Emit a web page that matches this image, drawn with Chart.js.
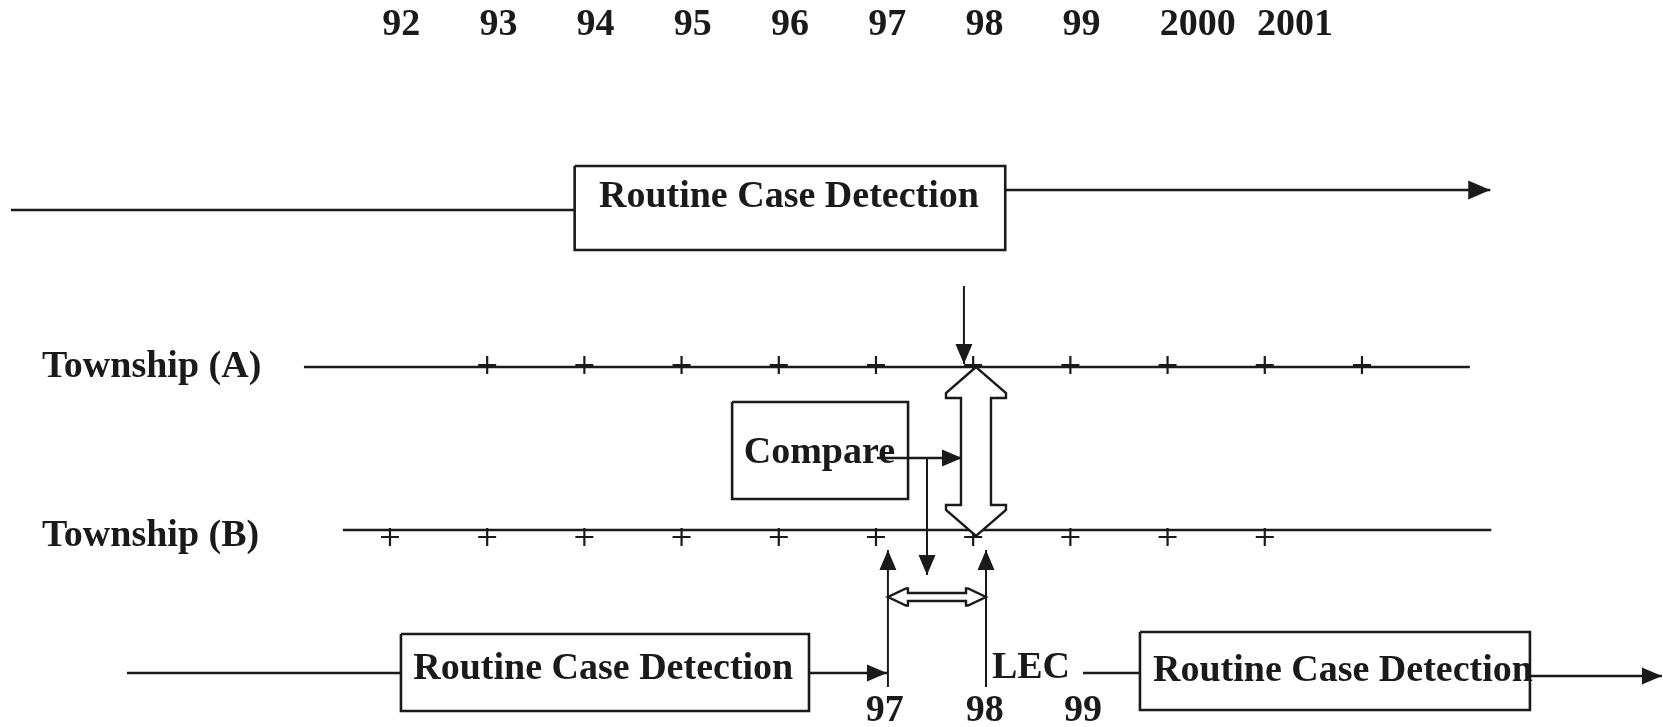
<!DOCTYPE html>
<html>
<head>
<meta charset="utf-8">
<script src="https://cdn.jsdelivr.net/npm/chart.js@4/dist/chart.umd.min.js"></script>
<style>
  html, body { margin: 0; padding: 0; background: #ffffff; }
  #wrap { width: 1663px; height: 727px; }
</style>
</head>
<body>
<div id="wrap"><canvas id="c" width="1663" height="727"></canvas></div>
<script>
// ---------- timeline values (x = year, 100 = 2000) ----------
const YEAR_LABELS = ['92', '93', '94', '95', '96', '97', '98', '99', '2000', '2001'];
const YEAR_VALUES = [92, 93, 94, 95, 96, 97, 98, 99, 100, 101];
const TOWNSHIP_A_MARKS = [93, 94, 95, 96, 97, 98, 99, 100, 101, 102];
const TOWNSHIP_B_MARKS = [92, 93, 94, 95, 96, 97, 98, 99, 100, 101];
const ROW_LABELS = ['Township (A)', 'Township (B)'];
const BOX_LABELS = ['Routine Case Detection', 'Compare', 'Routine Case Detection', 'Routine Case Detection'];
const EVENT_LABELS = ['97', '98', '99'];
const EVENT_VALUES = [97.09, 98.12, 99.13];
const LEC_LABEL = 'LEC';

// ---------- row levels (diagram units from the top) ----------
const ROW_YEARS = 3.5;
const ROW_TOP_IN = 21.0;
const ROW_TOP_OUT = 19.0;
const ROW_A = 36.7;
const ROW_A_MARKS = 36.5;
const ROW_B = 53.0;
const ROW_B_MARKS = 53.7;
const ROW_COMPARE = 45.8;
const ROW_BOTTOM = 67.3;
const ROW_BOTTOM_OUT = 67.6;
const ROW_EVENTS = 72.1;

// ---------- spans on the time axis ----------
const TOP_IN_SPAN = [88.10, 93.90];
const TOP_BOX_X = [93.90, 98.33];
const TOP_BOX_Y = [16.6, 25.0];
const TOP_OUT_SPAN = [98.33, 103.32];
const A_SPAN = [91.115, 103.11];
const B_SPAN = [91.516, 103.33];
const SIGNAL_X = 97.905;
const SIGNAL_SPAN = [28.6, 36.4];
const COMPARE_BOX_X = [95.52, 97.33];
const COMPARE_BOX_Y = [40.2, 49.9];
const COMPARE_OUT_SPAN = [97.01, 97.885];
const COMPARE_DROP_X = 97.525;
const COMPARE_DROP_SPAN = [45.8, 57.5];
const WINDOW_START = 97.123;
const WINDOW_END = 98.132;
const WINDOW_RISE = [68.7, 55.0];
const WINDOW_ROW = 59.7;
const LINK_X = 98.029;
const LINK_SPAN = [36.7, 53.6];
const BOTTOM_IN_SPAN = [89.294, 92.113];
const BOTTOM_BOX1_X = [92.113, 96.311];
const BOTTOM_BOX1_Y = [63.4, 71.1];
const BOTTOM_MID_SPAN = [96.311, 97.113];
const LEC_LINE_SPAN = [99.13, 99.716];
const BOTTOM_BOX2_X = [99.716, 103.728];
const BOTTOM_BOX2_Y = [63.2, 71.0];
const BOTTOM_OUT_SPAN = [103.728, 105.086];

const INK = '#1a1a1a';
const FONT = 'bold 38px "Liberation Serif", "Times New Roman", serif';

function seg(x0, y0, x1, y1, extra) {
  return Object.assign({
    type: 'line',
    data: [{ x: x0, y: y0 }, { x: x1, y: y1 }],
    borderColor: INK, borderWidth: 2.5, pointRadius: 0, fill: false, tension: 0, showLine: true
  }, extra || {});
}
function box(xs, ys) {
  return {
    type: 'line',
    data: [{ x: xs[0], y: ys[0] }, { x: xs[1], y: ys[0] }, { x: xs[1], y: ys[1] }, { x: xs[0], y: ys[1] }, { x: xs[0], y: ys[0] }],
    borderColor: INK, borderWidth: 2.6, pointRadius: 0, fill: false, tension: 0, showLine: true,
    borderJoinStyle: 'miter'
  };
}
function marks(values, row) {
  return {
    type: 'scatter',
    data: values.map(v => ({ x: v, y: row })),
    pointStyle: 'cross', pointRadius: 9, borderColor: INK, borderWidth: 2.2, showLine: false
  };
}

const datasets = [
  seg(TOP_IN_SPAN[0], ROW_TOP_IN, TOP_IN_SPAN[1], ROW_TOP_IN),
  box(TOP_BOX_X, TOP_BOX_Y),
  seg(TOP_OUT_SPAN[0], ROW_TOP_OUT, TOP_OUT_SPAN[1], ROW_TOP_OUT, { arrowEnd: true, headLen: 22, headHalf: 9.5 }),
  seg(A_SPAN[0], ROW_A, A_SPAN[1], ROW_A),
  marks(TOWNSHIP_A_MARKS, ROW_A_MARKS),
  seg(B_SPAN[0], ROW_B, B_SPAN[1], ROW_B),
  marks(TOWNSHIP_B_MARKS, ROW_B_MARKS),
  seg(SIGNAL_X, SIGNAL_SPAN[0], SIGNAL_X, SIGNAL_SPAN[1], { arrowEnd: true, borderWidth: 2 }),
  box(COMPARE_BOX_X, COMPARE_BOX_Y),
  seg(COMPARE_OUT_SPAN[0], ROW_COMPARE, COMPARE_OUT_SPAN[1], ROW_COMPARE, { arrowEnd: true }),
  seg(COMPARE_DROP_X, COMPARE_DROP_SPAN[0], COMPARE_DROP_X, COMPARE_DROP_SPAN[1], { arrowEnd: true, borderWidth: 2 }),
  seg(WINDOW_START, WINDOW_RISE[0], WINDOW_START, WINDOW_RISE[1], { arrowEnd: true, borderWidth: 2 }),
  seg(WINDOW_END, WINDOW_RISE[0], WINDOW_END, WINDOW_RISE[1], { arrowEnd: true, borderWidth: 2 }),
  seg(BOTTOM_IN_SPAN[0], ROW_BOTTOM, BOTTOM_IN_SPAN[1], ROW_BOTTOM),
  box(BOTTOM_BOX1_X, BOTTOM_BOX1_Y),
  seg(BOTTOM_MID_SPAN[0], ROW_BOTTOM, BOTTOM_MID_SPAN[1], ROW_BOTTOM, { arrowEnd: true }),
  seg(LEC_LINE_SPAN[0], ROW_BOTTOM, LEC_LINE_SPAN[1], ROW_BOTTOM),
  box(BOTTOM_BOX2_X, BOTTOM_BOX2_Y),
  seg(BOTTOM_OUT_SPAN[0], ROW_BOTTOM_OUT, BOTTOM_OUT_SPAN[1], ROW_BOTTOM_OUT, { arrowEnd: true })
];

function drawHead(ctx, ax, ay, bx, by, len, half) {
  const dx = bx - ax, dy = by - ay, L = Math.hypot(dx, dy) || 1;
  const ux = dx / L, uy = dy / L, nx = -uy, ny = ux;
  ctx.beginPath();
  ctx.moveTo(bx, by);
  ctx.lineTo(bx - ux * len + nx * half, by - uy * len + ny * half);
  ctx.lineTo(bx - ux * len - nx * half, by - uy * len - ny * half);
  ctx.closePath();
  ctx.fill();
}

function drawHollow(ctx, p0, p1, hl, hw, sw, sh) {
  const dx = p1.x - p0.x, dy = p1.y - p0.y, L = Math.hypot(dx, dy) || 1;
  const ux = dx / L, uy = dy / L, nx = -uy, ny = ux;
  const loc = [[0, 0], [hl - sh, hw], [hl, hw], [hl, sw], [L - hl, sw], [L - hl, hw], [L - hl + sh, hw], [L, 0],
    [L - hl + sh, -hw], [L - hl, -hw], [L - hl, -sw], [hl, -sw], [hl, -hw], [hl - sh, -hw]];
  ctx.beginPath();
  loc.forEach(([t, s], i) => {
    const px = p0.x + ux * t + nx * s, py = p0.y + uy * t + ny * s;
    if (i === 0) ctx.moveTo(px, py); else ctx.lineTo(px, py);
  });
  ctx.closePath();
  ctx.fillStyle = '#ffffff';
  ctx.fill();
  ctx.stroke();
}

const diagram = {
  id: 'diagram',
  afterDatasetsDraw(chart) {
    const { ctx } = chart;
    const xs = chart.scales.x, ys = chart.scales.y;
    const P = (vx, vy) => ({ x: xs.getPixelForValue(vx), y: ys.getPixelForValue(vy) });
    ctx.save();
    ctx.fillStyle = INK;
    ctx.strokeStyle = INK;
    chart.data.datasets.forEach((ds, i) => {
      if (!ds.arrowEnd) return;
      const pts = chart.getDatasetMeta(i).data;
      const a = pts[pts.length - 2], b = pts[pts.length - 1];
      ctx.fillStyle = INK;
      drawHead(ctx, a.x, a.y, b.x, b.y, ds.headLen || 20, ds.headHalf || 8.5);
    });
    ctx.lineWidth = 2.4;
    ctx.lineJoin = 'miter';
    drawHollow(ctx, P(LINK_X, LINK_SPAN[0]), P(LINK_X, LINK_SPAN[1]), 31, 30, 15, 5);
    drawHollow(ctx, P(WINDOW_START, WINDOW_ROW), P(WINDOW_END, WINDOW_ROW), 20, 8.5, 4, 2);

    ctx.fillStyle = INK;
    ctx.font = FONT;
    ctx.textBaseline = 'alphabetic';
    // year ticks along the top
    ctx.textAlign = 'left';
    YEAR_LABELS.forEach((t, i) => {
      const p = P(YEAR_VALUES[i] - 0.08, ROW_YEARS);
      ctx.fillText(t, p.x, p.y);
    });
    // row labels
    [[ROW_LABELS[0], 37.7], [ROW_LABELS[1], 54.6]].forEach(([t, yy]) => {
      const p = P(88.42, yy);
      ctx.fillText(t, p.x, p.y);
    });
    // box labels
    [[BOX_LABELS[0], 94.15, 20.7], [BOX_LABELS[1], 95.64, 46.3], [BOX_LABELS[2], 92.24, 67.9], [BOX_LABELS[3], 99.85, 68.1]]
      .forEach(([t, vx, vy]) => {
        const p = P(vx, vy);
        ctx.fillText(t, p.x, p.y);
      });
    // LEC
    const pl = P(98.193, 67.8);
    ctx.fillText(LEC_LABEL, pl.x, pl.y);
    // event years under the bottom row
    ctx.textAlign = 'center';
    EVENT_LABELS.forEach((t, i) => {
      const p = P(EVENT_VALUES[i], ROW_EVENTS);
      ctx.fillText(t, p.x, p.y);
    });
    ctx.restore();
  }
};

new Chart(document.getElementById('c'), {
  type: 'scatter',
  data: { datasets },
  options: {
    responsive: false,
    animation: false,
    devicePixelRatio: 1,
    layout: { padding: 0, autoPadding: false },
    plugins: { legend: { display: false }, tooltip: { enabled: false } },
    scales: {
      x: { type: 'linear', display: false, min: 87.988, max: 105.097 },
      y: { type: 'linear', display: false, min: 0, max: 72.7, reverse: true }
    },
    elements: { line: { borderCapStyle: 'butt' } }
  },
  plugins: [diagram]
});
</script>
</body>
</html>
